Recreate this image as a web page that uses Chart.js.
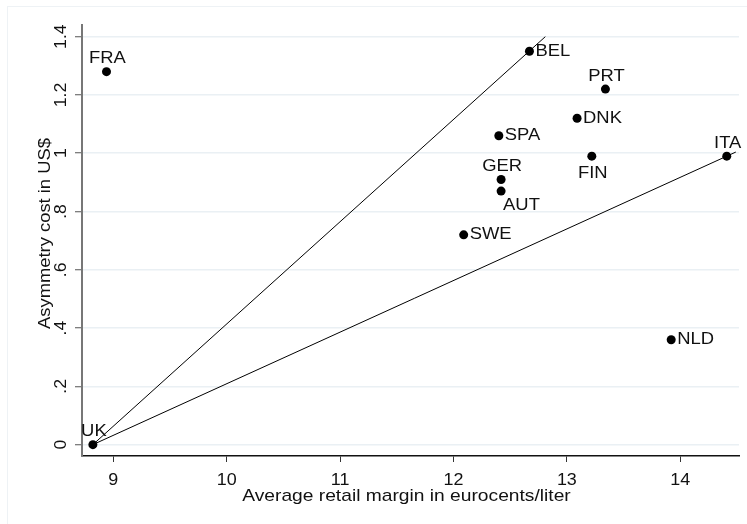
<!DOCTYPE html>
<html>
<head>
<meta charset="utf-8">
<script src="https://cdn.jsdelivr.net/npm/chart.js@4"></script>
<style>
  html, body { margin: 0; padding: 0; background: #fff; }
  #wrap { width: 747px; height: 524px; }
</style>
</head>
<body>
<div id="wrap"><canvas id="marginChart" width="747" height="524"></canvas></div>
<script>
// country data
var countries = ['FRA', 'UK', 'BEL', 'PRT', 'DNK', 'SPA', 'FIN', 'ITA', 'GER', 'AUT', 'SWE', 'NLD'];
var margin    = [8.94, 8.82, 12.67, 13.34, 13.09, 12.40, 13.22, 14.41, 12.42, 12.42, 12.09, 13.92];
var asymCost  = [1.28, 0.00, 1.35, 1.22, 1.12, 1.06, 0.99, 0.99, 0.91, 0.87, 0.72, 0.36];

// the two reference lines out of UK
var steepX = [8.82, 12.81];
var steepY = [0, 1.40];
var flatX  = [8.82, 14.49];
var flatY  = [0, 1.004];

var xTicks = [9, 10, 11, 12, 13, 14];
var xTickLabels = ['9', '10', '11', '12', '13', '14'];
var yTicks = [0, 0.2, 0.4, 0.6, 0.8, 1, 1.2, 1.4];
var yTickLabels = ['0', '.2', '.4', '.6', '.8', '1', '1.2', '1.4'];

var xTitle = 'Average retail margin in eurocents/liter';
var yTitle = 'Asymmetry cost in US$';

var FONT = '"Liberation Sans", Arial, sans-serif';

function pts(xs, ys) {
    return xs.map(function (x, i) { return { x: x, y: ys[i] }; });
}

// marker label placement, stata clock style
var labelPos = {
    FRA: 't', UK: 't', BEL: 'r', PRT: 't', DNK: 'r', SPA: 'r',
    FIN: 'b', ITA: 't', GER: 't', AUT: 'br', SWE: 'r', NLD: 'r'
};

// stata's text runs a bit wider than arial, so stretch along the text
function txt(c, s, x, y, size, align, base, rot, sx) {
    c.save();
    c.translate(x, y);
    if (rot) c.rotate(rot);
    c.scale(sx || 1.13, 1);
    c.font = size + 'px ' + FONT;
    c.textAlign = align;
    c.textBaseline = base;
    c.fillText(s, 0, 0);
    c.restore();
}

var extras = {
    id: 'extras',
    beforeDraw: function (chart) {
        var c = chart.ctx;
        c.save();
        c.fillStyle = '#fff';
        c.fillRect(0, 0, chart.width, chart.height);
        c.strokeStyle = '#eef2f5';
        c.lineWidth = 1;
        c.beginPath();
        c.moveTo(7, 6.5); c.lineTo(chart.width, 6.5);
        c.moveTo(7.5, 6); c.lineTo(7.5, chart.height);
        c.stroke();
        c.restore();
    },
    afterDraw: function (chart) {
        var c = chart.ctx;
        var xs = chart.scales.x, ys = chart.scales.y;
        var area = chart.chartArea;
        c.save();
        c.fillStyle = '#111';
        yTicks.forEach(function (v, i) {
            txt(c, yTickLabels[i], 66, ys.getPixelForValue(v), 16, 'center', 'alphabetic', -Math.PI / 2, 1.1);
        });
        xTicks.forEach(function (v, i) {
            txt(c, xTickLabels[i], xs.getPixelForValue(v), area.bottom + 29, 16, 'center', 'alphabetic', 0, 1.12);
        });
        txt(c, xTitle, (area.left + area.right) / 2 - 4, area.bottom + 45, 17, 'center', 'alphabetic', 0, 1.13);
        txt(c, yTitle, 49.5, (area.top + area.bottom) / 2 - 7, 17, 'center', 'alphabetic', -Math.PI / 2, 1.08);

        // marker labels
        var meta = chart.getDatasetMeta(2);
        meta.data.forEach(function (el, i) {
            var name = countries[i];
            var p = labelPos[name];
            var x = el.x, y = el.y;
            if (p === 't') txt(c, name, x + 1, y - 13, 16, 'center', 'middle', 0, 1.15);
            else if (p === 'b') txt(c, name, x + 1, y + 17, 16, 'center', 'middle', 0, 1.15);
            else if (p === 'br') txt(c, name, x + 2, y + 14, 16, 'left', 'middle', 0, 1.15);
            else txt(c, name, x + 6, y, 16, 'left', 'middle', 0, 1.15);
        });
        c.restore();
    }
};

var ctx = document.getElementById('marginChart').getContext('2d');
var chart = new Chart(ctx, {
    type: 'scatter',
    data: {
        datasets: [
            {
                type: 'line',
                data: pts(steepX, steepY),
                borderColor: '#000',
                borderWidth: 1,
                pointRadius: 0,
                fill: false
            },
            {
                type: 'line',
                data: pts(flatX, flatY),
                borderColor: '#000',
                borderWidth: 1,
                pointRadius: 0,
                fill: false
            },
            {
                data: pts(margin, asymCost),
                backgroundColor: '#000',
                borderWidth: 0,
                pointRadius: 4.5
            }
        ]
    },
    options: {
        responsive: false,
        animation: false,
        layout: { padding: { left: 0, top: 25, right: 8, bottom: 0 } },
        plugins: {
            legend: { display: false },
            tooltip: { enabled: false }
        },
        scales: {
            x: {
                type: 'linear',
                min: 8.724,
                max: 14.518,
                afterBuildTicks: function (s) { s.ticks = xTicks.map(function (v) { return { value: v }; }); },
                afterFit: function (s) { s.height = 68; },
                border: { color: '#111', width: 1.5 },
                grid: { drawOnChartArea: false, drawTicks: true, tickLength: 6, tickColor: '#333', tickWidth: 1 },
                ticks: { display: false }
            },
            y: {
                type: 'linear',
                min: -0.039,
                max: 1.44,
                afterBuildTicks: function (s) { s.ticks = yTicks.map(function (v) { return { value: v }; }); },
                afterFit: function (s) { s.width = 82; },
                border: { color: '#777', width: 2 },
                grid: { color: '#eaf0f4', lineWidth: 1.5, drawTicks: true, tickLength: 7, tickColor: '#555', tickWidth: 1 },
                ticks: { display: false }
            }
        }
    },
    plugins: [extras]
});
</script>
</body>
</html>
